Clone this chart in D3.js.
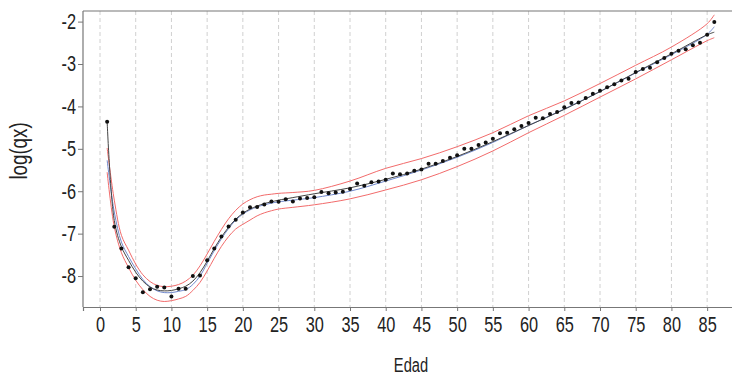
<!DOCTYPE html>
<html>
<head>
<meta charset="utf-8">
<script src="https://cdn.jsdelivr.net/npm/d3@7"></script>
<style>
  html, body { margin: 0; padding: 0; background: #fff; }
  svg text { font-family: "Liberation Sans", Arial, sans-serif; fill: #222; }
</style>
</head>
<body>
<svg id="chart" width="732" height="376"></svg>
<script>
// Observed log(qx) by single year of age
const ages = d3.range(1, 87);
const observed = [
  -4.36, -6.84, -7.35, -7.79, -8.05, -8.38, -8.31, -8.25, -8.27, -8.48,
  -8.30, -8.30, -8.00, -7.99, -7.63, -7.35, -7.07, -6.83, -6.67, -6.50,
  -6.38, -6.37, -6.31, -6.24, -6.25, -6.19, -6.24, -6.17, -6.16, -6.14,
  -6.02, -6.05, -6.03, -6.01, -5.95, -5.82, -5.87, -5.79, -5.77, -5.73,
  -5.58, -5.60, -5.58, -5.52, -5.49, -5.35, -5.35, -5.29, -5.21, -5.15,
  -5.00, -5.00, -4.91, -4.85, -4.76, -4.63, -4.62, -4.54, -4.46, -4.39,
  -4.27, -4.28, -4.18, -4.13, -4.02, -3.92, -3.91, -3.80, -3.70, -3.63,
  -3.55, -3.48, -3.39, -3.35, -3.19, -3.12, -3.09, -2.96, -2.86, -2.76,
  -2.69, -2.65, -2.56, -2.50, -2.31, -2.01
];

// Ages at which the smoothed curves are tabulated
const fitAges = [1, 2, 3, 4, 5, 6, 7, 8, 9, 10, 11, 12, 13, 14, 15, 16, 17, 18, 19, 20,
                 21, 22, 23, 24, 25, 27, 30, 35, 40, 45, 50, 55, 60, 65, 70, 75, 80, 85, 86];

const fitBlack = [-4.36, -6.69, -7.31, -7.63, -7.91, -8.12, -8.26, -8.33, -8.35, -8.34,
                  -8.30, -8.24, -8.12, -7.92, -7.65, -7.35, -7.08, -6.85, -6.66, -6.52,
                  -6.42, -6.35, -6.29, -6.25, -6.21, -6.15, -6.06, -5.92, -5.72, -5.48,
                  -5.18, -4.83, -4.45, -4.07, -3.65, -3.20, -2.76, -2.31, -2.25];

const fitBlue = [-5.27, -6.49, -7.20, -7.54, -7.83, -8.08, -8.25, -8.35, -8.39, -8.39,
                 -8.36, -8.32, -8.20, -8.00, -7.70, -7.40, -7.12, -6.88, -6.68, -6.54,
                 -6.44, -6.37, -6.32, -6.28, -6.25, -6.21, -6.15, -6.00, -5.76, -5.50,
                 -5.20, -4.85, -4.45, -4.06, -3.65, -3.21, -2.78, -2.30, -2.12];

const bandUpper = [-4.98, -6.21, -7.04, -7.39, -7.72, -7.97, -8.13, -8.22, -8.25, -8.24,
                   -8.20, -8.12, -7.98, -7.76, -7.48, -7.18, -6.90, -6.65, -6.45, -6.30,
                   -6.20, -6.13, -6.09, -6.07, -6.05, -6.03, -5.98, -5.76, -5.46, -5.23,
                   -4.95, -4.62, -4.22, -3.87, -3.46, -3.03, -2.60, -2.05, -1.84];

const bandLower = [-5.55, -6.84, -7.45, -7.80, -8.10, -8.32, -8.48, -8.57, -8.60, -8.58,
                   -8.54, -8.48, -8.34, -8.15, -7.88, -7.58, -7.30, -7.07, -6.89, -6.78,
                   -6.68, -6.58, -6.51, -6.46, -6.42, -6.38, -6.32, -6.18, -5.97, -5.73,
                   -5.42, -5.05, -4.62, -4.21, -3.78, -3.35, -2.90, -2.45, -2.38];

const xTicks = d3.range(0, 90, 5);
const yTicks = [-8, -7, -6, -5, -4, -3, -2];

const svg = d3.select("#chart");
const margin = { left: 83, top: 11, right: -8, bottom: 69 };
const W = 732, H = 376;

const x = d3.scaleLinear().domain([-2.38, 89.6]).range([margin.left, W - margin.right]);
const y = d3.scaleLinear().domain([-8.73, -1.75]).range([H - margin.bottom, margin.top]);

// narrow the type horizontally around each label's anchor
function squeeze(sel, s) {
  sel.each(function () {
    const t = d3.select(this);
    const x0 = +t.attr("x") || 0;
    t.attr("transform", `translate(${x0 * (1 - s)},0) scale(${s},1)`);
  });
}

// vertical dashed grid
svg.append("g").selectAll("line").data(xTicks).join("line")
  .attr("x1", d => x(d)).attr("x2", d => x(d))
  .attr("y1", y(-1.75)).attr("y2", y(-8.73))
  .attr("stroke", "#d0d0d0").attr("stroke-width", 1)
  .attr("stroke-dasharray", "4,3");

// frame: top border
svg.append("line")
  .attr("x1", margin.left).attr("x2", W)
  .attr("y1", y(-1.75)).attr("y2", y(-1.75))
  .attr("stroke", "#777").attr("stroke-width", 1.2);

// axes
const xAxis = d3.axisBottom(x).tickValues(xTicks).tickSize(4).tickPadding(6).tickFormat(d3.format("d"));
const gx = svg.append("g").attr("transform", `translate(0,${H - margin.bottom})`).call(xAxis);
gx.select(".domain").attr("stroke", "#777").attr("stroke-width", 1.2);
gx.selectAll(".tick line").attr("stroke", "#777");
gx.selectAll("text").attr("font-size", 21.5).attr("fill", "#222").call(squeeze, 0.76);

const yAxis = d3.axisLeft(y).tickValues(yTicks).tickSize(5).tickPadding(2).tickFormat(d3.format("d"));
const gy = svg.append("g").attr("transform", `translate(${margin.left},0)`).call(yAxis);
gy.select(".domain").attr("stroke", "#777").attr("stroke-width", 1.2).attr("d", `M0,${y(-1.75)}V${y(-8.73)}`);
gy.selectAll(".tick line").attr("stroke", "#777");
gy.selectAll("text").attr("font-size", 21.5).attr("fill", "#222")
  .text(d => "-" + Math.abs(d)).call(squeeze, 0.76);

// axis titles
svg.append("g").attr("transform", "translate(411,372) scale(0.7,1)")
  .append("text").attr("text-anchor", "middle").attr("font-size", 21).text("Edad");
svg.append("g").attr("transform", "translate(27,151) rotate(-90) scale(0.78,1)")
  .append("text").attr("text-anchor", "middle").attr("font-size", 24).text("log(qx)");

// curves
const line = d3.line().x(d => x(d[0])).y(d => y(d[1])).curve(d3.curveCatmullRom.alpha(0.5));
const pairs = vals => fitAges.map((a, i) => [a, vals[i]]);

const g = svg.append("g");
g.append("path").datum(pairs(bandUpper)).attr("d", line).attr("fill", "none").attr("stroke", "#f26b6b").attr("stroke-width", 1);
g.append("path").datum(pairs(bandLower)).attr("d", line).attr("fill", "none").attr("stroke", "#f26b6b").attr("stroke-width", 1);
g.append("path").datum(pairs(fitBlue)).attr("d", line).attr("fill", "none").attr("stroke", "#7088cc").attr("stroke-width", 1);
g.append("path").datum(pairs(fitBlack)).attr("d", line).attr("fill", "none").attr("stroke", "#444").attr("stroke-width", 1);

// observed points
g.selectAll("circle").data(ages).join("circle")
  .attr("cx", d => x(d)).attr("cy", (d, i) => y(observed[i]))
  .attr("r", 2).attr("fill", "#111");
</script>
</body>
</html>
